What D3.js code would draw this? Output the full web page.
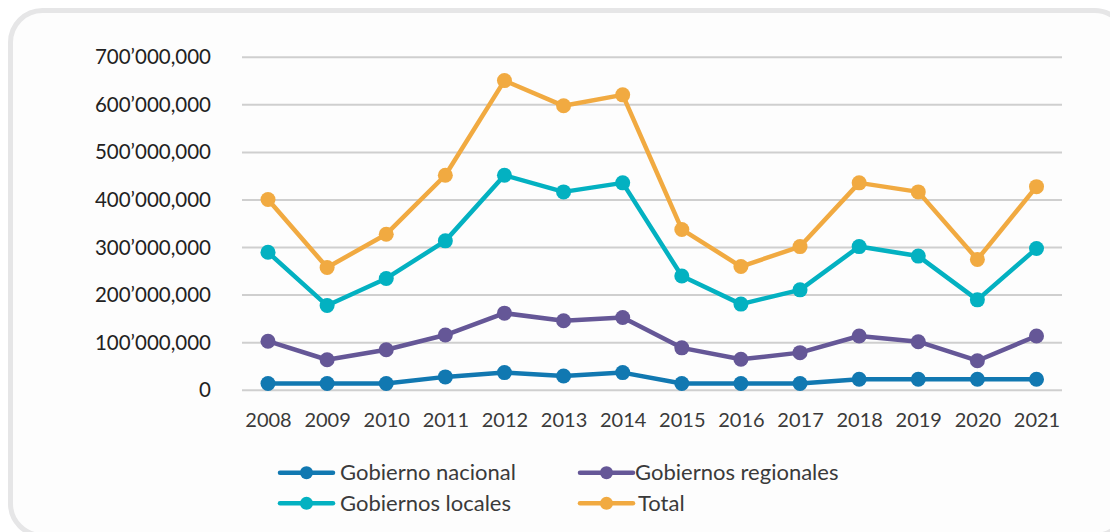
<!DOCTYPE html>
<html>
<head>
<meta charset="utf-8">
<script src="https://cdn.jsdelivr.net/npm/d3@7"></script>
<style>
  html, body { margin: 0; padding: 0; background: #ffffff; }
  svg { display: block; }
  text { font-family: Lato, "Open Sans", sans-serif; }
</style>
</head>
<body>
<svg id="chart" width="1110" height="532"></svg>
<script>
const years = ["2008","2009","2010","2011","2012","2013","2014","2015","2016","2017","2018","2019","2020","2021"];
const gobiernoNacional = [14e6,14e6,14e6,28e6,37e6,30e6,37e6,14e6,14e6,14e6,23e6,23e6,23e6,23e6];
const gobiernosRegionales = [103e6,64e6,85e6,116e6,162e6,146e6,153e6,89e6,65e6,79e6,114e6,102e6,62e6,114e6];
const gobiernosLocales = [290e6,178e6,235e6,314e6,452e6,417e6,436e6,240e6,181e6,211e6,302e6,282e6,190e6,298e6];
const total = [401e6,258e6,328e6,452e6,651e6,598e6,621e6,338e6,260e6,302e6,436e6,417e6,275e6,428e6];
const yTickValues = [0,100e6,200e6,300e6,400e6,500e6,600e6,700e6];
const yTickLabels = ["0","100’000,000","200’000,000","300’000,000","400’000,000","500’000,000","600’000,000","700’000,000"];
const seriesNames = ["Gobierno nacional","Gobiernos regionales","Gobiernos locales","Total"];
const seriesColors = ["#1178b1","#655797","#03b1c1","#f1aa41"];
const seriesData = [gobiernoNacional, gobiernosRegionales, gobiernosLocales, total];

const svg = d3.select("#chart");

// frame
svg.append("rect")
  .attr("x", 10.5).attr("y", 10.5)
  .attr("width", 1116).attr("height", 525)
  .attr("rx", 32).attr("ry", 32)
  .attr("fill", "#fdfdfd")
  .attr("stroke", "#e6e6e7")
  .attr("stroke-width", 5);

const gridLeft = 242, gridRight = 1062;
const x = d3.scalePoint().domain(years).range([268, 1036.5]);
const y = d3.scaleLinear().domain([0, 700e6]).range([390.2, 57.3]);

// gridlines
svg.append("g").selectAll("line")
  .data(yTickValues)
  .join("line")
  .attr("x1", gridLeft).attr("x2", gridRight)
  .attr("y1", d => y(d)).attr("y2", d => y(d))
  .attr("stroke", "#cfcfcf").attr("stroke-width", 2);

// y axis labels
const yAxis = d3.axisLeft(y).tickValues(yTickValues)
  .tickFormat((d, i) => yTickLabels[i]).tickSize(0).tickPadding(0);
const gy = svg.append("g").attr("transform", "translate(211,0)").call(yAxis);
gy.select(".domain").remove();
gy.selectAll("text")
  .attr("font-family", "Lato, sans-serif")
  .attr("font-size", 20.5)
  .attr("fill", "#222222");

// x axis labels
const xAxis = d3.axisBottom(x).tickSize(0).tickPadding(0);
const gx = svg.append("g").attr("transform", "translate(0,413)").call(xAxis);
gx.select(".domain").remove();
gx.selectAll("text")
  .attr("font-family", "Lato, sans-serif")
  .attr("font-size", 20)
  .attr("fill", "#3a3a3a");

// series
const line = d3.line().x((d, i) => x(years[i])).y(d => y(d));
seriesData.forEach((vals, si) => {
  const g = svg.append("g");
  g.append("path")
    .datum(vals)
    .attr("d", line)
    .attr("fill", "none")
    .attr("stroke", seriesColors[si])
    .attr("stroke-width", 4.5)
    .attr("stroke-linejoin", "round");
  g.selectAll("circle")
    .data(vals)
    .join("circle")
    .attr("cx", (d, i) => x(years[i]))
    .attr("cy", d => y(d))
    .attr("r", 7.5)
    .attr("fill", seriesColors[si]);
});

// legend
const legendPos = [[280, 472.7], [580, 472.7], [280, 503.3], [580, 503.3]];
const legendTextX = [340, 635, 340, 638];
const lg = svg.append("g");
seriesNames.forEach((name, i) => {
  const [lx, ly] = legendPos[i];
  lg.append("line")
    .attr("x1", lx).attr("x2", lx + 53)
    .attr("y1", ly).attr("y2", ly)
    .attr("stroke", seriesColors[i]).attr("stroke-width", 4.5)
    .attr("stroke-linecap", "round");
  lg.append("circle")
    .attr("cx", lx + 26.5).attr("cy", ly).attr("r", 6.5)
    .attr("fill", seriesColors[i]);
  lg.append("text")
    .attr("x", legendTextX[i]).attr("y", ly)
    .attr("dy", "0.35em")
    .attr("font-family", "Lato, sans-serif")
    .attr("font-size", 22)
    .attr("fill", "#3a3a3a")
    .text(name);
});
</script>
</body>
</html>
